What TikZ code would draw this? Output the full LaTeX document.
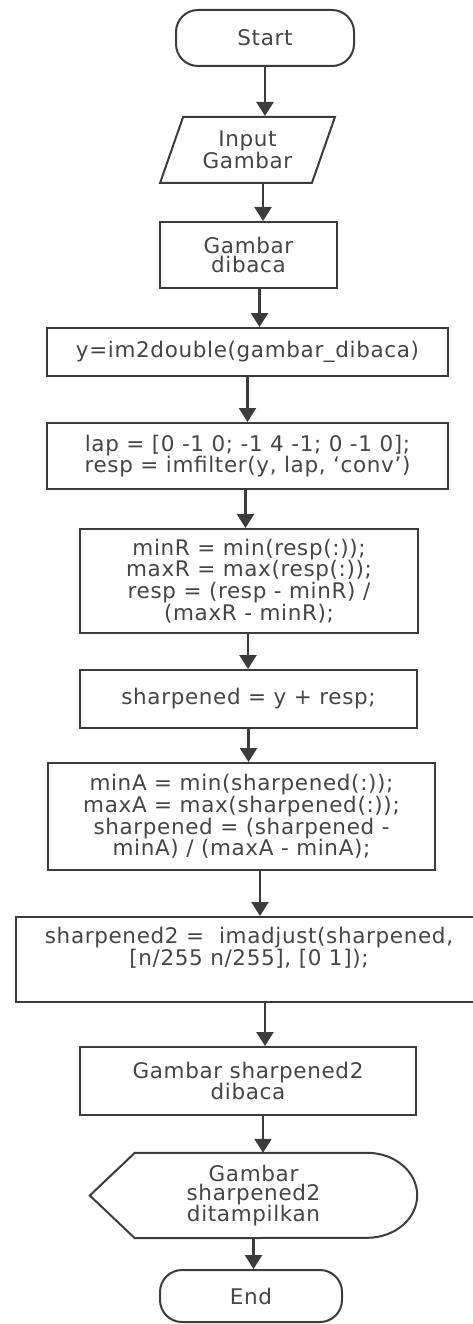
\documentclass[tikz,border=0pt]{standalone}
\usepackage{fontspec}
\setmainfont{DejaVu Sans}[LetterSpace=3]
\usetikzlibrary{arrows.meta, positioning, shapes.geometric}
\definecolor{linegray}{HTML}{3C3C3C}
\definecolor{textgray}{HTML}{454545}

\begin{document}
\begin{tikzpicture}[x=1pt, y=-1pt,
    every node/.style={font=\fontsize{21.5pt}{19pt}\selectfont, text=textgray, align=center, inner sep=0pt},
    termbox/.style={draw=linegray, line width=2pt, rounded corners=22pt},
    procbox/.style={draw=linegray, line width=2pt, rectangle},
    iobox/.style={draw=linegray, line width=2pt, trapezium, trapezium left angle=67, trapezium right angle=113, trapezium stretches=true},
    arr/.style={linegray, line width=2.5pt, -{Triangle[width=17pt, length=14pt]}}
]
\useasboundingbox (0,0) rectangle (473,1324);

% Start / input
\node[termbox, minimum width=178pt, minimum height=56pt] (start) at (265,38) {Start};
\node[iobox, minimum width=175pt, minimum height=66pt] (input) at (247.5,150) {Input\\Gambar};
\node[procbox, minimum width=177pt, minimum height=66pt] (baca) at (248.5,255) {Gambar\\dibaca};

% Laplacian steps
\node[procbox, minimum width=401pt, minimum height=48pt] (im2d) at (247.5,352) {y=im2double(gambar\_dibaca)};
\node[procbox, minimum width=401pt, minimum height=66pt] (lap) at (247.5,456) {lap = [0 -1 0; -1 4 -1; 0 -1 0];\\resp = imfilter(y, lap, `conv')};
\node[procbox, minimum width=338pt, minimum height=104pt] (minR) at (249,581) {minR = min(resp(:));\\maxR = max(resp(:));\\resp = (resp - minR) /\\(maxR - minR);};
\node[procbox, minimum width=337pt, minimum height=58pt] (sharp) at (248.5,699) {sharpened = y + resp;};
\node[procbox, minimum width=387pt, minimum height=107pt] (minA) at (241.5,816.5) {minA = min(sharpened(:));\\maxA = max(sharpened(:));\\sharpened = (sharpened -\\minA) / (maxA - minA);};
\node[procbox, minimum width=466pt, minimum height=85pt] (sh2) at (249,959.5) {};
\node[below=11pt of sh2.north] (sh2txt) {sharpened2 = \ imadjust(sharpened,\\{}[n/255 n/255], [0 1]);};

% Output
\node[procbox, minimum width=336pt, minimum height=68pt] (gsh2) at (248,1081) {Gambar sharpened2\\dibaca};
\node[minimum width=327pt, minimum height=85pt] (disp) at (253.5,1195.5) {Gambar\\sharpened2\\ditampilkan};
\draw[linegray, line width=2pt] (disp.west) -- ([xshift=45pt]disp.north west) -- ([xshift=-50pt]disp.north east)
    arc[start angle=90, end angle=-90, x radius=50pt, y radius=42.5pt] -- ([xshift=45pt]disp.south west) -- cycle;
\node[termbox, minimum width=182pt, minimum height=52pt] (stop) at (251,1296) {End};

% Connectors
\foreach \src/\dst/\dx in {start/input/0, input/baca/15.5, baca/im2d/11, im2d/lap/0, lap/minR/-2, minR/sharp/-1,
    sharp/minA/0, minA/sh2/18.5, sh2/gsh2/16, gsh2/disp/15, disp/stop/0}
    \draw[arr] ([xshift=\dx pt]\src.south) -- ([xshift=\dx pt]\src.south |- \dst.north);
\end{tikzpicture}
\end{document}
